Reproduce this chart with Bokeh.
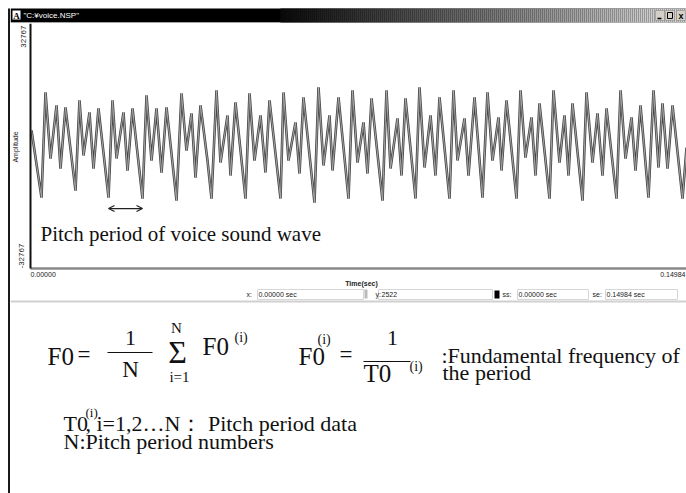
import numpy as np
from bokeh.plotting import figure
from bokeh.layouts import column, row
from bokeh.models import Range1d, Arrow, OpenHead
from bokeh.core.properties import value
from bokeh.embed import file_html
from bokeh.resources import INLINE

# ---------------- data ----------------
time_ms = [0.23, 2.49, 3.40, 4.53, 5.89, 6.79, 7.92, 10.19, 11.09, 12.00,
           13.35, 14.26, 15.39, 17.66, 18.56, 19.47, 21.05, 21.96, 23.09, 25.35,
           26.26, 27.39, 28.52, 29.66, 30.79, 33.05, 34.18, 35.31, 36.44, 37.35,
           38.48, 40.06, 40.97, 42.10, 43.01, 44.59, 45.27, 46.40, 48.67, 49.57,
           50.70, 52.06, 53.19, 54.10, 56.59, 57.27, 58.40, 59.98, 60.89, 61.79,
           64.28, 65.19, 66.32, 67.68, 68.36, 69.72, 71.98, 72.88, 74.02, 75.37,
           76.28, 77.19, 79.68, 80.58, 81.49, 83.07, 83.98, 84.88, 87.15, 88.05,
           89.18, 90.54, 91.67, 92.58, 94.84, 95.75, 96.65, 98.24, 99.14, 100.50,
           102.31, 103.44, 104.57, 105.93, 106.61, 107.74, 110.01, 110.91, 112.04, 113.40,
           114.31, 115.21, 117.48, 118.38, 119.74, 120.87, 121.78, 122.68, 124.95, 125.85,
           127.21, 128.34, 129.47, 130.38, 132.64, 133.55, 134.68, 136.04, 136.94, 138.07,
           139.88, 141.02, 142.15, 143.05, 144.19, 145.32, 147.58, 148.49]
amplitude = [4460, -13640, 14720, -3110, 11210, -5810, 10670, -11750, 12560, -2300,
             9320, -5810, 10400, -13640, 12560, -3110, 9320, -6350, 10400, -13910,
             13910, -3650, 10400, -6890, 10670, -14450, 14450, -950, 9050, -8240,
             11210, -3650, -13910, 15260, -4190, 8510, -7700, 12020, -13910, 14450,
             -3650, 8510, -6890, 12560, -13910, 14720, -3650, 6620, -7160, 13370,
             -14990, 16070, -5000, 8510, -6350, 13370, -13910, 15260, -4190, 6620,
             -7160, 13100, -14450, 15260, -5810, 7700, -7700, 13100, -13910, 16070,
             -5540, 8510, -7700, 13370, -13910, 15260, -3650, 7700, -7700, 13370,
             -13640, 14720, -3650, 7970, -6350, 12560, -13910, 15260, -2840, 7970,
             -7700, 11750, -13910, 15260, -4190, 8510, -7700, 11750, -14450, 14720,
             -4190, 9050, -7700, 10400, -13910, 15260, -3110, 7970, -6350, 11210,
             -13640, 15260, -5540, 11750, -5810, 11210, -13910, -140]
t_sec = [v / 1000.0 for v in time_ms]

DURATION = 0.14984          # seconds shown on the time axis
AMP_MAX = 32767             # amplitude axis extremes
y_labels = ["32767", "Amplitude", "-32767"]
x_labels = ["0.00000", "0.14984"]
x_title = "Time(sec)"
window_title = '"C:\u00a5voice.NSP"'
pitch_caption = "Pitch period of voice sound wave"
pitch_from, pitch_to = 13, 19   # troughs bounding one pitch period
status_items = [("x:", "0.00000 sec"), ("y:", "2522"), ("ss:", "0.00000 sec"), ("se:", "0.14984 sec")]

SERIF = value("Liberation Serif")
SANS = value("Liberation Sans")


def blank(w, h, xr, yr):
    p = figure(width=w, height=h, x_range=xr, y_range=yr, output_backend="svg",
               toolbar_location=None, x_axis_type=None, y_axis_type=None,
               min_border=0, outline_line_color=None, background_fill_color="white",
               border_fill_color="white")
    p.grid.visible = False
    return p

# ---------------- left window border ----------------
pl = blank(10, 493, Range1d(0, 10), Range1d(493, 0))
pl.quad(left=[7.5], right=[10], top=[8], bottom=[493], fill_color="#1a1a1a", line_color=None)

# ---------------- title bar ----------------
pt = blank(676, 23, Range1d(10, 686), Range1d(23, 0))
pt.quad(left=[10], right=[686], top=[8], bottom=[22], fill_color="black", line_color=None)
pt.quad(left=[10], right=[686], top=[22], bottom=[23], fill_color="#c8c8c8", line_color=None)
gx = np.arange(280, 686, 2)
frac = np.clip((gx - 280) / 380.0, 0, 1)
gcol = ["#%02x%02x%02x" % (int(v), int(v), int(v)) for v in 10 + frac * 200]
pt.quad(left=gx, right=gx + 2, top=8, bottom=22, fill_color=gcol, line_color=None)
pt.quad(left=[12], right=[20], top=[10], bottom=[19], fill_color="white", line_color=None)
pt.text(x=[16], y=[15], text=["A"], text_align="center", text_baseline="middle",
        text_font=SERIF, text_font_size="9px", text_font_style="bold", text_color="black")
pt.text(x=[23], y=[15], text=[window_title], text_align="left", text_baseline="middle",
        text_font=SANS, text_font_size="8px", text_color="white")
pt.quad(left=[655, 665, 676], right=[664, 674, 685], top=[10] * 3, bottom=[20] * 3,
        fill_color="#d4d0c8", line_color="#808080", line_width=0.5)
pt.segment(x0=[657], y0=[18], x1=[661], y1=[18], line_color="black", line_width=1.5)
pt.quad(left=[667], right=[672], top=[12], bottom=[18], fill_color=None, line_color="black", line_width=1)
pt.text(x=[680.5], y=[15], text=["x"], text_align="center", text_baseline="middle",
        text_font=SANS, text_font_size="9px", text_font_style="bold", text_color="black")

# ---------------- waveform ----------------
SPX = DURATION / 662.0          # seconds per pixel
APX = 2 * AMP_MAX / 243.0       # amplitude units per pixel
pw = blank(676, 265, Range1d(-20 * SPX, 656 * SPX), Range1d(-AMP_MAX - 20 * APX, AMP_MAX + 2 * APX))
pw.line(t_sec, amplitude, line_color="#454545", line_width=2.6)
pw.line(t_sec, amplitude, line_color="#b0b0b0", line_width=0.9)
pw.segment(x0=[0], y0=[-AMP_MAX], x1=[DURATION], y1=[-AMP_MAX], line_color="#8a8a8a", line_width=2.5)
pw.segment(x0=[0], y0=[-AMP_MAX], x1=[0], y1=[AMP_MAX + 2 * APX], line_color="#111111", line_width=2)
pw.text(x=[0], y=[AMP_MAX], text=[y_labels[0]], angle=np.pi / 2, text_align="right",
        text_baseline="middle", x_offset=-7, text_font=SANS, text_font_size="8px", text_color="#222")
pw.text(x=[0], y=[0], text=[y_labels[1]], angle=np.pi / 2, text_align="center",
        text_baseline="middle", x_offset=-15, text_font=SANS, text_font_size="7px", text_color="#222")
pw.text(x=[0], y=[-AMP_MAX], text=[y_labels[2]], angle=np.pi / 2, text_align="left",
        text_baseline="middle", x_offset=-9, text_font=SANS, text_font_size="8px", text_color="#222")
pw.text(x=[0], y=[-AMP_MAX], text=[x_labels[0]], text_align="left", text_baseline="top",
        y_offset=3, text_font=SANS, text_font_size="7px", text_color="#222")
pw.text(x=[DURATION], y=[-AMP_MAX], text=[x_labels[1]], text_align="right", text_baseline="top",
        x_offset=-7, y_offset=3, text_font=SANS, text_font_size="7px", text_color="#222")
pw.text(x=[DURATION / 2], y=[-AMP_MAX], text=[x_title], text_align="center", text_baseline="top",
        y_offset=11, text_font=SANS, text_font_size="7px", text_font_style="bold", text_color="#222")
pw.text(x=[0], y=[-AMP_MAX], text=[pitch_caption], text_align="left", text_baseline="alphabetic",
        x_offset=10, y_offset=-35, text_font=SERIF, text_font_size="21px", text_color="#111")
pw.add_layout(Arrow(start=OpenHead(size=6, line_width=1.2, line_color="#222"),
                    end=OpenHead(size=6, line_width=1.2, line_color="#222"),
                    x_start=t_sec[pitch_from], x_end=t_sec[pitch_to],
                    y_start=-16600, y_end=-16600, line_width=1.2, line_color="#222"))

# ---------------- status bar + formulas ----------------
pb = blank(676, 205, Range1d(10, 686), Range1d(493, 288))
pb.quad(left=[257, 378, 517, 605], right=[363, 492, 588, 677], top=[289] * 4, bottom=[299] * 4,
        fill_color="white", line_color="#d6d6d6", line_width=1)
pb.quad(left=[364], right=[367], top=[289], bottom=[298], fill_color="#bbbbbb", line_color=None)
pb.quad(left=[494], right=[499], top=[290], bottom=[298], fill_color="black", line_color=None)
sx_lab = [246, 375, 502, 592]
sx_val = [258, 381, 518, 606]
pb.text(x=sx_lab, y=[294] * 4, text=[s[0] for s in status_items], text_baseline="middle",
        text_font=SANS, text_font_size="7px", text_color="#222")
pb.text(x=sx_val, y=[294] * 4, text=[s[1] for s in status_items], text_baseline="middle",
        text_font=SANS, text_font_size="7px", text_color="#222")
pb.segment(x0=[10], y0=[301], x1=[686], y1=[301], line_color="#d0d0d0", line_width=2)


def serif(x, y, s, size, align="left"):
    # y is the visual baseline; the renderer draws the alphabetic baseline lower, compensate
    pb.text(x=[x], y=[y], text=[s], text_align=align, text_baseline="alphabetic",
            y_offset=-round(0.37 * size), text_font=SERIF, text_font_size="%dpx" % size,
            text_color="#111")

# F0 = 1/N sum F0(i)
serif(47, 365, "F0", 25)
serif(77, 363, "=", 23)
serif(130, 345, "1", 22, "center")
pb.segment(x0=[107], y0=[352], x1=[152], y1=[352], line_color="#111", line_width=1.2)
serif(130, 378, "N", 23, "center")
serif(177, 363, "\u03a3", 32, "center")
serif(176, 333, "N", 15, "center")
serif(179, 382, "i=1", 15, "center")
serif(202, 355, "F0", 25)
serif(234, 342, "(i)", 14)
# F0(i) = 1/T0(i)
serif(298, 365, "F0", 25)
serif(317, 344, "(i)", 14)
serif(339, 363, "=", 23)
serif(392, 345, "1", 22, "center")
pb.segment(x0=[363], y0=[361], x1=[410], y1=[361], line_color="#111", line_width=1.2)
serif(363, 382, "T0", 25)
serif(409, 371, "(i)", 14)
serif(441, 363, ":Fundamental frequency of", 22)
serif(442, 380, "the period", 22)
# definitions
serif(63, 431, "T0", 22)
serif(85, 417, "(i)", 13)
serif(85, 431, ", i=1,2\u2026N\uff1a Pitch period data", 22)
serif(63, 449, "N:Pitch period numbers", 22)

layout = row(pl, column(pt, pw, pb, spacing=0), spacing=0)
open("out.html", "w").write(file_html(layout, INLINE))
